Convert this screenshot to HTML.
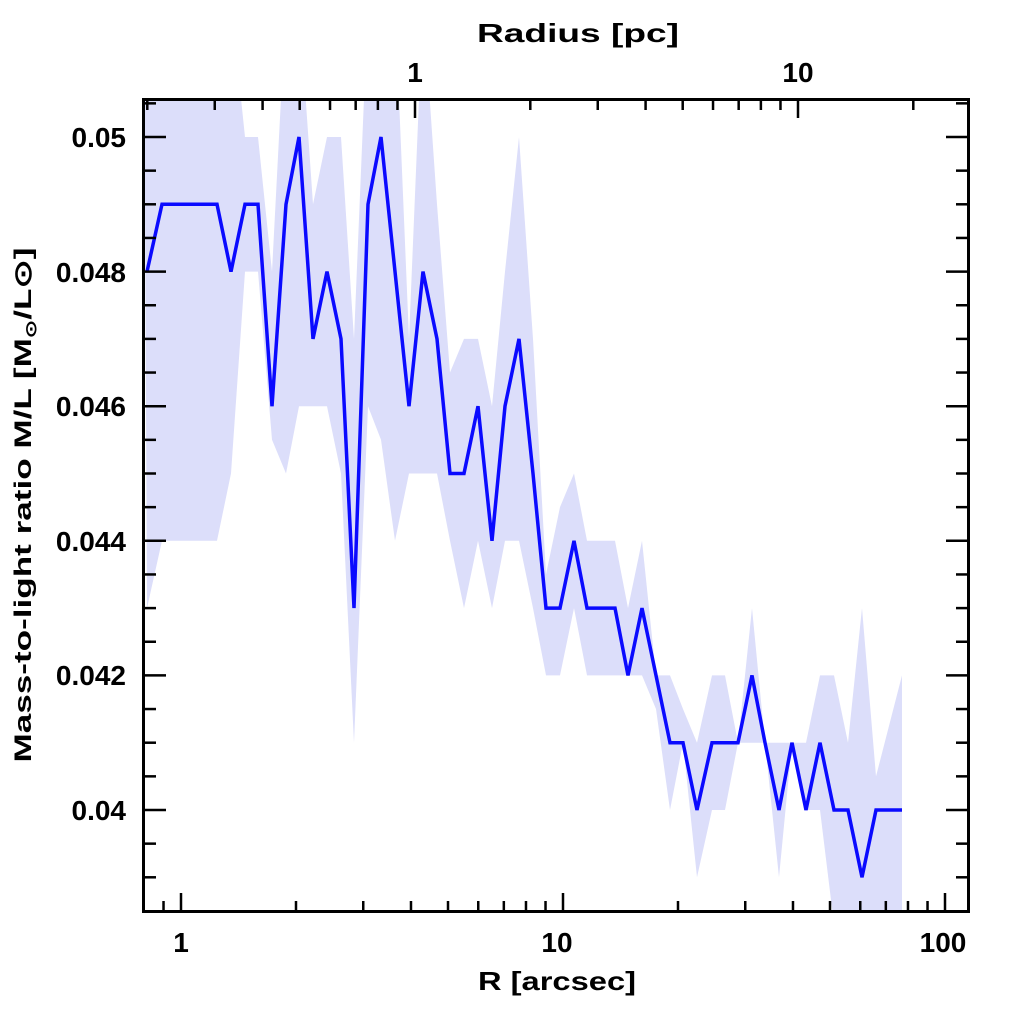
<!DOCTYPE html>
<html><head><meta charset="utf-8"><style>
html,body{margin:0;padding:0;background:#fff;}
svg{display:block;}
text{font-family:"Liberation Sans",sans-serif;font-weight:bold;fill:#000;}
</style></head><body>
<svg id="s" width="1024" height="1024" viewBox="0 0 1024 1024" xmlns="http://www.w3.org/2000/svg">
<defs><clipPath id="c"><rect x="144" y="99" width="825" height="813"/></clipPath></defs>
<g clip-path="url(#c)">
<polygon id="band" fill="#dcdefa" points=""/>
<polyline id="line" fill="none" stroke="#0a0aff" stroke-width="3.5" stroke-linejoin="miter" points=""/>
</g>
<g id="ticks" stroke="#000" stroke-width="2.5"></g>
<rect x="143.5" y="99.5" width="825" height="812" fill="none" stroke="#000" stroke-width="3"/>
<g font-size="28" text-anchor="end">
<text x="126" y="147">0.05</text>
<text x="126" y="282">0.048</text>
<text x="126" y="416">0.046</text>
<text x="126" y="551">0.044</text>
<text x="126" y="685">0.042</text>
<text x="126" y="820">0.04</text>
</g>
<g font-size="28" text-anchor="middle">
<text x="181" y="952">1</text>
<text x="557" y="952">10</text>
<text x="943" y="952">100</text>
<text x="415" y="82">1</text>
<text x="798" y="82">10</text>
</g>
<text x="557" y="990" font-size="26" text-anchor="middle" textLength="158" lengthAdjust="spacingAndGlyphs">R [arcsec]</text>
<text x="578" y="42" font-size="26" text-anchor="middle" textLength="202" lengthAdjust="spacingAndGlyphs">Radius [pc]</text>
<text transform="translate(31,505) rotate(-90)" font-size="24" text-anchor="middle" textLength="515" lengthAdjust="spacingAndGlyphs">Mass-to-light ratio M/L [M<tspan font-size="15" dy="5">⊙</tspan><tspan dy="-5">/L⊙]</tspan></text>
</svg>
<script>
function Y(v){return 137+(50-v)*67.3;}
var d=[[147,48,43,52],[162,49,44,52],[217,49,44,52],[231,48,45,52],[245,49,48,50],[258,49,48,50],[272,46,45.5,48],[286,49,45,52],[299,50,46,52],[313,47,46,49],[327,48,46,50],[341,47,45,50],[354,43,41,47],[368,49,46,52],[381,50,45.5,52],[395,48,44,52],[409,46,45,47],[423,48,45,52],[437,47,45,49],[450,45,44,46.5],[464,45,43,47],[478,46,44,47],[492,44,43,46],[505,46,44,48],[519,47,44,50],[533,45,43,47],[546,43,42,43.5],[560,43,42,44.5],[574,44,43,45],[587,43,42,44],[615,43,42,44],[628,42,42,43],[642,43,42,44],[656,42,41.5,42],[670,41,40,42],[683,41,41,41.5],[697,40,39,41],[712,41,40,42],[725,41,40,42],[738,41,41,41],[752,42,41,43],[765,41,41,41],[779,40,39,41],[792,41,41,41],[806,40,40,41],[820,41,40,42],[834,40,38.3,42],[848,40,38.3,41],[862,39,38.3,43],[876,40,38.3,40.5],[902,40,38.3,42]];
var up=[],lo=[],ln=[];
d.forEach(function(p){up.push(p[0]+","+Y(p[3]).toFixed(1));lo.unshift(p[0]+","+Y(p[2]).toFixed(1));ln.push(p[0]+","+Y(p[1]).toFixed(1));});
up.unshift("144,"+Y(52));up.push("902,"+Y(42));
document.getElementById("band").setAttribute("points",up.concat(lo).join(" "));
document.getElementById("line").setAttribute("points",ln.join(" "));
var g=document.getElementById("ticks"),h="";
function L(x1,y1,x2,y2){h+='<line x1="'+x1+'" y1="'+y1+'" x2="'+x2+'" y2="'+y2+'"/>';}
for(var v=39;v<=50.5;v+=0.5){var y=Y(v);if(y<100||y>911)continue;var maj=(Math.abs(v/2-Math.round(v/2))<1e-6);var l=maj?22:12;L(144,y,144+l,y);L(968,y,968-l,y);}
function X(r){return 181+382*Math.log10(r);}
for(var e=-1;e<=2;e++)for(var k=1;k<10;k++){var r=k*Math.pow(10,e);var x=X(r);if(x<146||x>967)continue;var l=(k==1)?18:10;L(x,911,x,911-l);}
function XP(p){return 415+383*Math.log10(p);}
for(var e=-1;e<=1;e++)for(var k=1;k<10;k++){var p=k*Math.pow(10,e);var x=XP(p);if(x<146||x>967)continue;var l=(k==1)?18:10;L(x,100,x,100+l);}
g.innerHTML=h;
</script>
</body></html>
